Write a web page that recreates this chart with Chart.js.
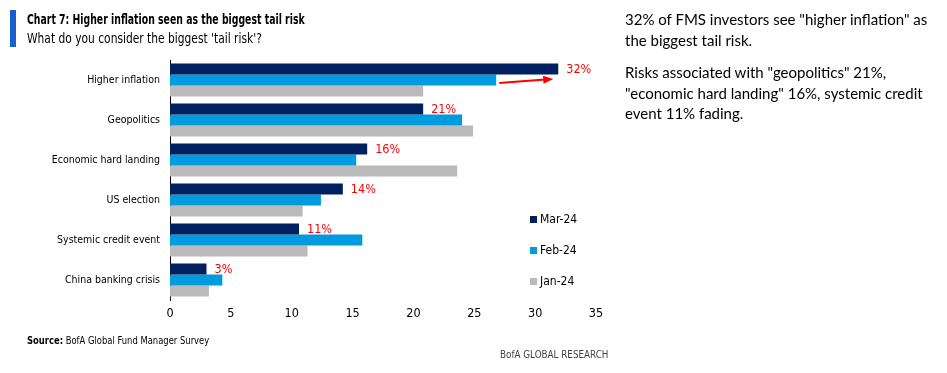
<!DOCTYPE html>
<html>
<head>
<meta charset="utf-8">
<script src="https://cdn.jsdelivr.net/npm/chart.js@4.4.1/dist/chart.umd.min.js"></script>
<style>
  body { margin: 0; background: #fff; width: 947px; height: 373px; overflow: hidden; position: relative;
         font-family: "Liberation Sans Narrow", "DejaVu Sans Condensed", sans-serif; color: #000; }
  #chart { position: absolute; left: 0; top: 0; }
  .flag { position: absolute; left: 10px; top: 10px; width: 6px; height: 37px; background: #1a5fd0; }
  .title, .subtitle, .source, .brand { position: absolute; white-space: nowrap; transform-origin: left top; }
  .title { left: 27px; top: 11px; font-weight: bold; font-size: 14.5px; transform: scaleX(0.715); }
  .subtitle { left: 27px; top: 30px; font-size: 13.5px; transform: scaleX(0.88); }
  .note { position: absolute; left: 625px; top: 9px; width: 320px; font-family: Lato, "Noto Sans", sans-serif;
          font-size: 15px; line-height: 20.5px; }
  .note p { margin: 0 0 12px 0; }
  .source { left: 27px; top: 334px; font-size: 10.5px; transform: scaleX(0.89); }
  .brand { left: 500px; top: 348px; font-size: 10.5px; color: #444; transform: scaleX(0.93); }
</style>
</head>
<body>
<canvas id="chart" width="947" height="373"></canvas>
<div class="flag"></div>
<div class="title">Chart 7: Higher inflation seen as the biggest tail risk</div>
<div class="subtitle">What do you consider the biggest 'tail risk'?</div>
<div class="note">
  <p>32% of FMS investors see "higher inflation" as the biggest tail risk.</p>
  <p>Risks associated with "geopolitics" 21%, "economic hard landing" 16%, systemic credit event 11% fading.</p>
</div>
<div class="source"><b>Source:</b> BofA Global Fund Manager Survey</div>
<div class="brand">BofA GLOBAL RESEARCH</div>
<script>
const categories = ['Higher inflation', 'Geopolitics', 'Economic hard landing', 'US election', 'Systemic credit event', 'China banking crisis'];
const seriesNames = ['Mar-24', 'Feb-24', 'Jan-24'];
const mar24 = [31.9, 20.8, 16.2, 14.2, 10.6, 3.0];
const feb24 = [26.8, 24.0, 15.3, 12.4, 15.8, 4.3];
const jan24 = [20.8, 24.9, 23.6, 10.9, 11.3, 3.2];
const colors = ['#002060', '#009ade', '#bababa'];

const narrow = '"Liberation Sans Narrow", "DejaVu Sans Condensed", sans-serif';

// red % labels on the Mar-24 bars plus the arrow on the top row
const annotate = {
    id: 'annotate',
    afterDatasetsDraw(chart) {
        const ctx = chart.ctx;
        const mar = chart.getDatasetMeta(0).data;
        const feb = chart.getDatasetMeta(1).data;
        ctx.save();
        ctx.fillStyle = '#ff0000';
        ctx.font = '12.5px ' + narrow;
        ctx.textBaseline = 'middle';
        mar.forEach((bar, i) => {
            ctx.fillText(Math.round(mar24[i]) + '%', bar.x + 8, bar.y + 1);
        });
        // arrow from Feb bar end towards Mar bar end
        const x0 = feb[0].x + 3, y0 = feb[0].y + 3;
        const x1 = mar[0].x - 5, y1 = feb[0].y - 1;
        ctx.strokeStyle = '#ff0000';
        ctx.lineWidth = 2;
        ctx.beginPath();
        ctx.moveTo(x0, y0);
        ctx.lineTo(x1 - 8, y1 + 0.6);
        ctx.stroke();
        const ang = Math.atan2(y1 - y0, x1 - x0);
        ctx.beginPath();
        ctx.moveTo(x1, y1);
        ctx.lineTo(x1 - 10 * Math.cos(ang) - 4 * Math.sin(ang), y1 - 10 * Math.sin(ang) + 4 * Math.cos(ang));
        ctx.lineTo(x1 - 10 * Math.cos(ang) + 4 * Math.sin(ang), y1 - 10 * Math.sin(ang) - 4 * Math.cos(ang));
        ctx.closePath();
        ctx.fill();
        ctx.restore();
    }
};

// vertical legend inside the plot
const sideLegend = {
    id: 'sideLegend',
    afterDraw(chart, args, opts) {
        const ctx = chart.ctx;
        ctx.save();
        ctx.font = '12px ' + narrow;
        ctx.textBaseline = 'middle';
        chart.data.datasets.forEach((ds, i) => {
            const y = opts.top + i * opts.gap;
            ctx.fillStyle = ds.backgroundColor;
            ctx.fillRect(opts.left, y - 3, 7, 7);
            ctx.fillStyle = '#000';
            ctx.fillText(ds.label, opts.left + 10, y + 1);
        });
        ctx.restore();
    }
};

new Chart(document.getElementById('chart').getContext('2d'), {
    type: 'bar',
    data: {
        labels: categories,
        datasets: [mar24, feb24, jan24].map((d, i) => ({
            label: seriesNames[i],
            data: d,
            backgroundColor: colors[i],
            borderWidth: 0,
            categoryPercentage: 0.825,
            barPercentage: 1
        }))
    },
    options: {
        indexAxis: 'y',
        responsive: false,
        animation: false,
        layout: { padding: { top: 60, right: 351, left: 0, bottom: 0 } },
        plugins: {
            legend: { display: false },
            tooltip: { enabled: false },
            sideLegend: { left: 530, top: 219, gap: 31 }
        },
        scales: {
            x: {
                min: 0, max: 35,
                ticks: { stepSize: 5, color: '#000', font: { family: narrow, size: 12.5 }, padding: 6 },
                grid: { display: false, drawTicks: false },
                border: { display: false },
                afterFit(s) { s.height = 73; }
            },
            y: {
                ticks: { color: '#000', font: { family: narrow, size: 10.5 }, padding: 10 },
                grid: { display: false, drawTicks: false },
                border: { display: true, color: '#000', width: 1 },
                afterFit(s) { s.width = 170; }
            }
        }
    },
    plugins: [annotate, sideLegend]
});
</script>
</body>
</html>
